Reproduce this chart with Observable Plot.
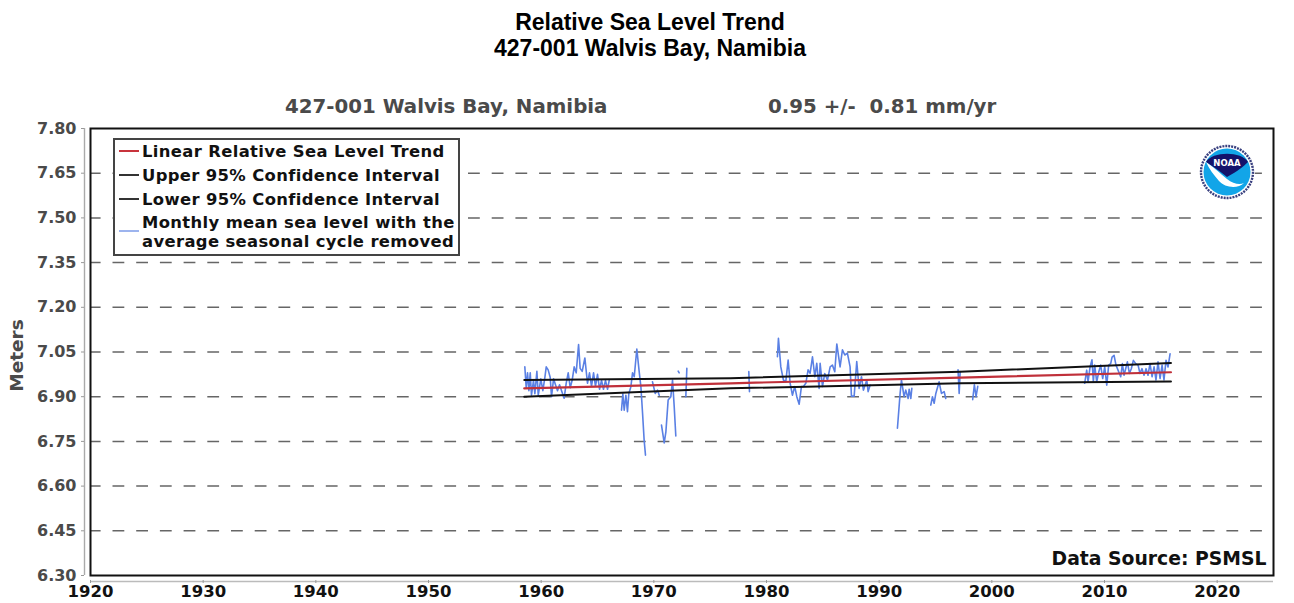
<!DOCTYPE html>
<html>
<head>
<meta charset="utf-8">
<script src="https://cdn.jsdelivr.net/npm/d3@7"></script>
<script src="https://cdn.jsdelivr.net/npm/@observablehq/plot@0.6"></script>
<style>
html,body{margin:0;padding:0;background:#fff;width:1294px;height:603px;overflow:hidden}
#page{position:relative;width:1294px;height:603px}
#head{height:118px}
.t{position:absolute;left:0;width:1300px;text-align:center;font:bold 23px "Liberation Sans",sans-serif;color:#000;line-height:26px}
.s{position:absolute;top:95px;font:bold 19.8px "DejaVu Sans",sans-serif;color:#4a4a4a;white-space:pre;line-height:24px}
#legend{position:absolute;left:113px;top:138px;width:343px;height:114px;background:#fff;border:2px solid #444;box-sizing:content-box;font:bold 16.4px "DejaVu Sans",sans-serif;letter-spacing:.36px;color:#111}
#legend .r{position:absolute;left:27px;white-space:pre;line-height:18px}
#legend .k{position:absolute;left:4px;width:20px;height:2px}
#logo{position:absolute;left:1198px;top:143px}
svg.plot{display:block}
</style>
</head>
<body>
<div id="page">
  <div id="head">
    <div class="t" style="top:9px">Relative Sea Level Trend</div>
    <div class="t" style="top:35px">427-001 Walvis Bay, Namibia</div>
    <div class="s" style="left:285px">427-001 Walvis Bay, Namibia</div>
    <div class="s" style="left:768px">0.95 +/-  0.81 mm/yr</div>
  </div>
  <div id="chart"></div>
  <div id="legend">
    <div class="k" style="top:10px;background:#c8343c"></div><div class="r" style="top:3px">Linear Relative Sea Level Trend</div>
    <div class="k" style="top:34px;background:#333"></div><div class="r" style="top:27px">Upper 95% Confidence Interval</div>
    <div class="k" style="top:58px;background:#333"></div><div class="r" style="top:51px">Lower 95% Confidence Interval</div>
    <div class="k" style="top:90px;background:#9db4ee"></div><div class="r" style="top:74px">Monthly mean sea level with the</div>
    <div class="r" style="top:93px">average seasonal cycle removed</div>
  </div>
  <svg id="logo" width="58" height="58" viewBox="0 0 58 58">
    <circle cx="29" cy="29" r="28" fill="#fff"/>
    <circle cx="29" cy="29" r="26" fill="none" stroke="#39407f" stroke-width="2.4" stroke-dasharray="2 1"/>
    <circle cx="29" cy="29" r="23.5" fill="#12a5e8"/>
    <path d="M8 19 C14 8 44 8 50 19 C46 23 40 28 29 34 C22 28 14 23 8 19Z" fill="#13136b"/>
    <path d="M8 19 C14 23 22 30 29 36 C35 41 42 42 46 40 C40 46 27 45 21 38 C16 32 11 26 8 19Z" fill="#fff"/>
    <text x="29" y="23" text-anchor="middle" font-family="DejaVu Sans" font-weight="bold" font-size="8.5" fill="#fff">NOAA</text>
  </svg>
</div>
<script>
const yTicks = [6.30,6.45,6.60,6.75,6.90,7.05,7.20,7.35,7.50,7.65,7.80];
const xTicks = [1920,1930,1940,1950,1960,1970,1980,1990,2000,2010,2020];

const trendYears = [1958.5,1976.8,1997.2,2015.9];
const trendMean  = [6.928,6.945,6.964,6.982];
const trendUpper = [6.956,6.962,6.984,7.013];
const trendLower = [6.900,6.928,6.945,6.951];

const years1958 = [1958.55,1958.67,1958.79,1958.91,1959.03,1959.14,1959.32,1959.44,1959.62,1959.74,1959.97,1960.15,1960.33,1960.45,1960.62,1960.8,1960.92,1961.1,1961.27,1961.45,1961.63,1961.81,1962.04,1962.22,1962.4,1962.58,1962.75,1962.93,1963.11,1963.32,1963.46,1963.64,1963.88,1964.11,1964.29,1964.47,1964.65,1964.82,1965.0,1965.18,1965.36,1965.53,1965.71,1965.89,1966.04];
const level1958 = [7.00,6.93,6.98,6.92,6.98,6.905,6.955,6.91,6.985,6.905,6.96,6.92,6.965,7.0,6.99,6.965,6.90,6.96,6.94,6.92,6.94,6.92,6.895,6.945,6.98,6.93,6.955,7.0,6.98,7.075,6.995,6.985,7.03,6.945,6.98,6.935,6.98,6.935,6.975,6.925,6.955,6.925,6.955,6.925,6.955];

const years1967 = [1967.13,1967.25,1967.37,1967.52,1967.66,1967.78,1967.96,1968.11,1968.26,1968.49,1968.7,1968.85,1969.0,1969.14,1969.26];
const level1967 = [6.855,6.91,6.855,6.905,6.85,6.91,6.933,6.98,6.967,7.06,6.984,6.934,6.844,6.754,6.704];

const years1970 = [1969.88,1970.12,1970.33,1970.48];
const level1970 = [6.95,6.911,6.922,6.905];

const years1971 = [1970.68,1970.92,1971.07,1971.27,1971.51,1971.66,1971.81,1971.95];
const level1971 = [6.805,6.745,6.782,6.889,6.9,6.956,6.866,6.768];

const years1972 = [1972.16,1972.25];
const level1972 = [6.986,6.98];

const years1973 = [1972.84,1972.93];
const level1973 = [6.9,6.995];

const years1978 = [1978.43,1978.49];
const level1978 = [6.984,6.917];

const years1981 = [1980.97,1981.06,1981.27,1981.5,1981.71,1981.92,1982.1,1982.3,1982.51,1982.69,1982.9,1983.1,1983.28,1983.49,1983.69,1983.87,1984.08,1984.29,1984.46,1984.67,1984.76,1984.97,1985.17,1985.41,1985.65,1985.85,1986.06,1986.24,1986.53,1986.74,1986.95,1987.18,1987.42,1987.54,1987.78,1988.01,1988.22,1988.43,1988.6,1988.9,1989.02,1989.2];
const level1981 = [7.034,7.096,7.0,6.956,6.95,7.023,6.945,6.905,6.934,6.9,6.875,6.934,6.934,6.945,6.99,6.978,7.034,6.967,7.012,6.928,7.012,6.934,6.978,6.956,7.0,7.006,6.984,7.077,7.0,7.057,7.04,7.046,7.0,6.902,6.902,7.018,6.928,6.967,6.922,6.956,6.917,6.939];

const years1991 = [1991.62,1991.86,1991.98,1992.21,1992.36,1992.57,1992.66,1992.81,1992.9];
const level1991 = [6.794,6.911,6.956,6.9,6.922,6.894,6.925,6.894,6.928];

const years1994 = [1994.58,1994.73,1994.88,1995.03,1995.32,1995.53,1995.77,1995.91];
const level1994 = [6.872,6.9,6.878,6.911,6.95,6.911,6.917,6.894];

const years1997 = [1997.0,1997.1,1997.19];
const level1997 = [6.99,6.911,6.984];

const years1998 = [1998.3,1998.45,1998.6,1998.75];
const level1998 = [6.89,6.94,6.90,6.935];

const years2008 = [2008.24,2008.42,2008.54,2008.72,2008.89,2009.01,2009.13,2009.31,2009.49,2009.66,2009.84,2010.02,2010.2,2010.37,2010.55,2010.67,2010.85,2011.02,2011.44,2011.59,2011.73,2011.88,2012.03,2012.21,2012.38,2012.56,2012.77,2012.98,2013.15,2013.33,2013.51,2013.69,2013.86,2014.04,2014.22,2014.4,2014.57,2014.75,2014.93,2015.11,2015.28,2015.46,2015.64,2015.82];
const level2008 = [6.945,6.989,6.95,7.0,7.024,6.95,7.006,6.95,6.983,7.006,6.961,7.0,6.939,7.006,7.011,7.033,7.039,7.006,6.967,7.011,6.972,6.994,7.017,6.978,6.994,7.022,7.011,7.006,6.978,6.994,6.972,6.994,6.972,7.011,6.967,7.0,6.956,7.017,6.961,7.006,6.956,7.022,7.0,7.044];

const segments = [
  [years1958,level1958],[years1967,level1967],[years1970,level1970],[years1971,level1971],
  [years1972,level1972],[years1973,level1973],[years1978,level1978],[years1981,level1981],
  [years1991,level1991],[years1994,level1994],[years1997,level1997],[years1998,level1998],[years2008,level2008]
];
const monthly = segments.flatMap(([ys,ls],seg)=>ys.map((year,i)=>({year,level:ls[i],seg})));
const trend = trendYears.map((year,i)=>({year,mean:trendMean[i],upper:trendUpper[i],lower:trendLower[i]}));

const font = '"DejaVu Sans",sans-serif';
const chart = Plot.plot({
  width:1294, height:485,
  marginTop:10, marginBottom:28, marginLeft:90, marginRight:21,
  style:{background:"#fff",fontFamily:font},
  x:{domain:[1920,2025]},
  y:{domain:[6.30,7.80]},
  marks:[
    Plot.ruleY(yTicks.slice(1,-1),{stroke:"#666",strokeWidth:1.5,strokeDasharray:"11.8 11.9",strokeDashoffset:1.2}),
    Plot.line(monthly,{x:"year",y:"level",z:"seg",stroke:"#5a80e4",strokeWidth:1.6,curve:"linear"}),
    Plot.line(trend,{x:"year",y:"upper",stroke:"#111",strokeWidth:2}),
    Plot.line(trend,{x:"year",y:"lower",stroke:"#111",strokeWidth:2}),
    Plot.line(trend,{x:"year",y:"mean",stroke:"#c0303a",strokeWidth:2.2}),
    Plot.frame({stroke:"#111",strokeWidth:2}),
    Plot.ruleX([1920],{dx:-6,stroke:"#aaa",strokeWidth:1.4}),
    Plot.ruleY([6.30],{dy:6,stroke:"#bbb",strokeWidth:1.4}),
    Plot.axisY({ticks:yTicks,tickFormat:d3.format(".2f"),tickSize:3,tickPadding:5,dx:-6,stroke:"#999",
      fontSize:16,fontWeight:"bold",fill:"#4a4a4a",label:null}),
    Plot.axisX({ticks:xTicks,tickFormat:d=>String(d),tickSize:3,tickPadding:2,dy:5,stroke:"#999",
      fontSize:16.5,fontWeight:"bold",fill:"#111",label:null}),
    Plot.text(["Meters"],{frameAnchor:"left",textAnchor:"middle",dx:-73,dy:3.5,rotate:-90,fontSize:18.5,fontWeight:"bold",fill:"#4a4a4a"}),
    Plot.text(["Data Source: PSMSL"],{frameAnchor:"bottom-right",dx:-7,dy:-11,fontSize:18.8,fontWeight:"bold",fill:"#111"})
  ]
});
document.getElementById("chart").append(chart);
</script>
</body>
</html>
